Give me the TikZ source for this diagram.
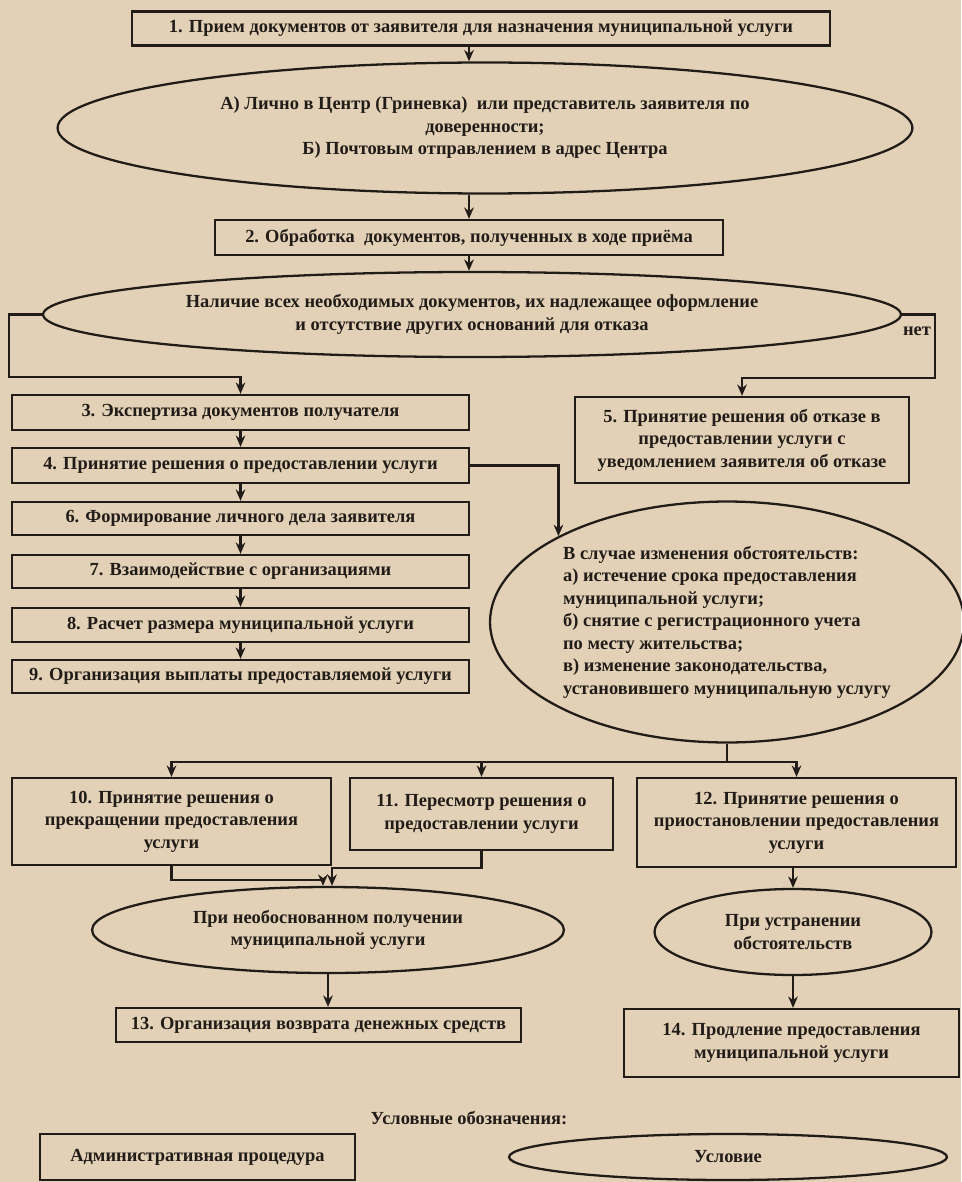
\documentclass[tikz,border=0pt]{standalone}
\usepackage{fontspec}
\setmainfont{Liberation Serif}
\usetikzlibrary{arrows.meta,shapes.geometric}
\definecolor{paper}{RGB}{226,209,182}
\definecolor{ink}{RGB}{34,28,24}
\begin{document}
\begin{tikzpicture}[x=0.02cm,y=-0.02cm,
	every node/.style={font=\fontsize{10.5}{12.8}\selectfont\bfseries,text=ink},
	proc/.style={draw=ink,line width=1.3pt,rectangle,align=center,inner sep=1pt},
	cond/.style={draw=ink,line width=1.3pt,ellipse,align=center,inner sep=0pt},
	arr/.style={draw=ink,line width=1.2pt,-{Stealth[length=6.5pt,width=5.5pt]}},
	link/.style={draw=ink,line width=1.2pt}]
		\fill [paper] (0,0) rectangle (961,1182);
		\useasboundingbox (0,0) rectangle (961,1182);

		\node [proc,minimum width=13.96cm,minimum height=0.68cm] (b1) at (481,28.5)
			{1. Прием документов от заявителя для назначения муниципальной услуги};
		\node [cond,minimum width=17.1cm,minimum height=2.62cm] (eA) at (485,128)
			{А) Лично в Центр (Гриневка)\ \ или представитель заявителя по\\доверенности;\\Б) Почтовым отправлением в адрес Центра};
		\node [proc,minimum width=10.16cm,minimum height=0.7cm] (b2) at (469,237.5)
			{2. Обработка\ \ документов, полученных в ходе приёма};
		\node [cond,minimum width=17.16cm,minimum height=1.7cm] (eB) at (472,314.5)
			{Наличие всех необходимых документов, их надлежащее оформление\\и отсутствие других оснований для отказа};
		\node (no) at (917,331) {нет};

		\node [proc,minimum width=9.14cm,minimum height=0.7cm] (b3) at (240.5,412.5) {3. Экспертиза документов получателя};
		\node [proc,minimum width=9.14cm,minimum height=0.7cm] (b4) at (240.5,465.5) {4. Принятие решения о предоставлении услуги};
		\node [proc,minimum width=9.14cm,minimum height=0.66cm] (b6) at (240.5,518.5) {6. Формирование личного дела заявителя};
		\node [proc,minimum width=9.14cm,minimum height=0.66cm] (b7) at (240.5,571.5) {7. Взаимодействие с организациями};
		\node [proc,minimum width=9.14cm,minimum height=0.68cm] (b8) at (240.5,625) {8. Расчет размера муниципальной услуги};
		\node [proc,minimum width=9.14cm,minimum height=0.66cm] (b9) at (240.5,676.5) {9. Организация выплаты предоставляемой услуги};

		\node [proc,minimum width=6.68cm,minimum height=1.72cm] (b5) at (742,440)
			{5. Принятие решения об отказе в\\предоставлении услуги с\\уведомлением заявителя об отказе};
		\node [cond,align=left,minimum width=9.48cm,minimum height=4.82cm] (eC) at (727,622)
			{В случае изменения обстоятельств:\\а) истечение срока предоставления\\муниципальной услуги;\\б) снятие с регистрационного учета\\по месту жительства;\\в) изменение законодательства,\\установившего муниципальную услугу};

		\node [proc,minimum width=6.38cm,minimum height=1.74cm] (b10) at (171.5,821.5)
			{10. Принятие решения о\\прекращении предоставления\\услуги};
		\node [proc,minimum width=5.26cm,minimum height=1.44cm] (b11) at (481.5,814)
			{11. Пересмотр решения о\\предоставлении услуги};
		\node [proc,minimum width=6.38cm,minimum height=1.78cm] (b12) at (796.5,822.5)
			{12. Принятие решения о\\приостановлении предоставления\\услуги};

		\node [cond,minimum width=9.44cm,minimum height=1.72cm] (eD) at (328,930)
			{При необоснованном получении\\муниципальной услуги};
		\node [cond,minimum width=5.54cm,minimum height=1.72cm] (eE) at (793,932)
			{При устранении\\обстоятельств};
		\node [proc,minimum width=8.1cm,minimum height=0.68cm] (b13) at (318.5,1025)
			{13. Организация возврата денежных средств};
		\node [proc,minimum width=6.7cm,minimum height=1.36cm] (b14) at (791.5,1043)
			{14. Продление предоставления\\муниципальной услуги};

		\node (legend) at (469,1118) {Условные обозначения:};
		\node [proc,minimum width=6.3cm,minimum height=0.92cm] (lproc) at (197.5,1157) {Административная процедура};
		\node [cond,minimum width=8.76cm,minimum height=0.92cm] (lcond) at (728,1157) {Условие};

		\coordinate (lcorner) at (9,377);
		\coordinate (rcorner) at (935,378);
		\coordinate (split) at (727,762);
		\coordinate (j10) at (323,880);
		\coordinate (j11) at (332,868);

		\draw [arr] (b1.south -| b2) -- (eA.north -| b2);
		\draw [arr] (eA.south -| b2) -- (b2.north);
		\draw [arr] (b2.south) -- (b2.south |- eB.north);
		\draw [arr] (eB.west) -| (lcorner) -| (b3.north);
		\draw [arr] (eB.east) -| (rcorner) -| (b5.north);
		\foreach \a/\b in {b3/b4,b4/b6,b6/b7,b7/b8,b8/b9}
			\draw [arr] (\a.south) -- (\b.north);
		\draw [arr] (b4.east) -| (eC.153);

		\draw [link] (eC.south) -- (split);
		\draw [arr] (split) -| (b10.north);
		\draw [arr] (split) -| (b12.north);
		\draw [arr] (split -| b11.north) -- (b11.north);

		\draw [arr] (b10.south) |- (j10) -- (j10 |- eD.north);
		\draw [arr] (b11.south) |- (j11) -- (j11 |- eD.north);
		\draw [arr] (eD.south) -- (eD.south |- b13.north);
		\draw [arr] (b12.south -| eE) -- (eE.north);
		\draw [arr] (eE.south) -- (eE.south |- b14.north);
\end{tikzpicture}
\end{document}
